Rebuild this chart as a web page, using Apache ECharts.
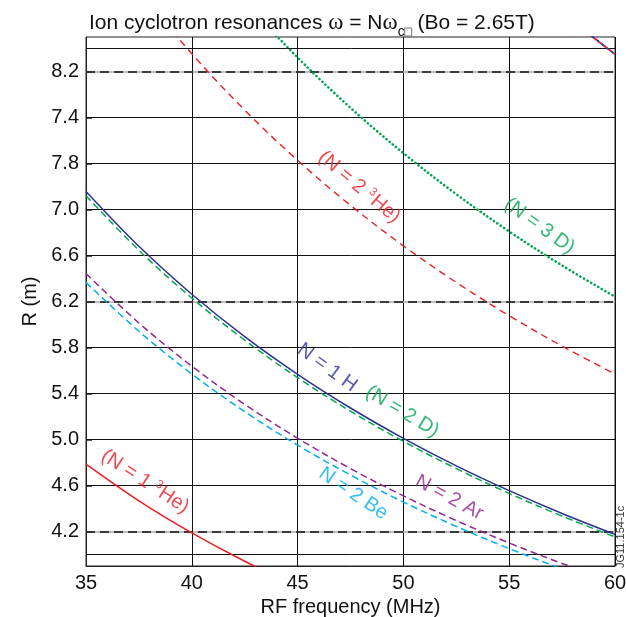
<!DOCTYPE html>
<html>
<head>
<meta charset="utf-8">
<title>Ion cyclotron resonances</title>
<script src="https://cdn.jsdelivr.net/npm/echarts@6/dist/echarts.min.js"></script>
<style>
  html, body { margin: 0; padding: 0; background: #fff; }
  #chart { width: 626px; height: 617px; }
</style>
</head>
<body>
<div id="chart"></div>
<script>
// RF frequency samples (MHz)
const freqs = [35, 37.5, 40, 42.5, 45, 47.5, 50, 52.5, 55, 57.5, 60];

// Resonance radius R (m) at each frequency
const rH1   = [7.157, 6.680, 6.263, 5.894, 5.567, 5.274, 5.010, 4.771, 4.555, 4.357, 4.175];
const rD2   = [7.120, 6.645, 6.230, 5.864, 5.538, 5.246, 4.984, 4.747, 4.531, 4.334, 4.153];
const rBe2  = [6.366, 5.941, 5.570, 5.242, 4.951, 4.691, 4.456, 4.244, 4.051, 3.875, 3.713];
const rAr2  = [6.443, 6.013, 5.638, 5.306, 5.011, 4.747, 4.510, 4.295, 4.100, 3.922, 3.758];
const rHe3_2 = [9.549, 8.912, 8.355, 7.864, 7.427, 7.036, 6.684, 6.366, 6.076, 5.812, 5.570];
const rD3   = [10.70, 9.987, 9.363, 8.812, 8.322, 7.884, 7.490, 7.133, 6.809, 6.513, 6.242];
const rHe3_1 = [4.786, 4.467, 4.188, 3.941, 3.722];
const rH2   = [9.109, 8.713, 8.350];
const freqsH2 = [55, 57.5, 60];

// Horizontal reference lines (m)
const solidLevels  = [4.0, 4.6, 5.0, 5.4, 5.8, 6.6, 7.0, 7.4, 7.8, 8.4];
const dashedLevels = [4.2, 6.2, 8.2];

// R axis tick positions and their printed labels
const rTicks  = [4.2, 4.6, 5.0, 5.4, 5.8, 6.2, 6.6, 7.0, 7.4, 7.8, 8.2];
const rLabels = ['4.2', '4.6', '5.0', '5.4', '5.8', '6.2', '6.6', '7.0', '7.8', '7.4', '8.2'];

// Curve captions: rich text, anchor (MHz, m), slope angle
const captions = [
  { text: '(N = 2 {sup|3}He)', f: 47.91, r: 7.195, angle: -40, color: '#ed1c24' },
  { text: '(N = 3 D)',         f: 56.43, r: 6.856, angle: -36, color: '#00a651' },
  { text: 'N = 1 H',           f: 46.40, r: 5.624, angle: -36, color: '#2e3192' },
  { text: '(N = 2 D)',         f: 49.95, r: 5.242, angle: -31, color: '#00a651' },
  { text: 'N = 2 Be',          f: 47.63, r: 4.530, angle: -34, color: '#00aeef' },
  { text: 'N = 2 Ar',          f: 52.17, r: 4.495, angle: -28, color: '#92278f' },
  { text: '(N = 1 {sup|3}He)', f: 37.79, r: 4.634, angle: -33, color: '#ed1c24' }
];

const FONT = '"Liberation Sans", Arial, Helvetica, sans-serif';

function pairs(xs, ys) { return ys.map((y, i) => [xs[i], y]); }

function curve(name, xs, ys, color, type, width, extra) {
  return Object.assign({
    name: name,
    type: 'line',
    data: pairs(xs, ys),
    smooth: 0.35,
    symbol: 'none',
    clip: true,
    silent: true,
    lineStyle: { color: color, width: width, type: type },
    z: 5
  }, extra || {});
}

const chart = echarts.init(document.getElementById('chart'), null, { renderer: 'canvas' });

const option = {
  animation: false,
  backgroundColor: '#fff',
  title: {
    left: 84,
    top: 5,
    text: '{a|Ion cyclotron resonances }{w|ω}{a| = N}{w|ω}{s|c}{b|}{a| (Bo = 2.65T)}',
    textStyle: {
      fontWeight: 'normal',
      rich: {
        a: { fontFamily: FONT, fontSize: 21, fontWeight: 'normal', color: '#111', lineHeight: 26, verticalAlign: 'middle' },
        w: { fontFamily: '"Liberation Serif", "DejaVu Serif", serif', fontSize: 23, fontWeight: 'normal', color: '#111', lineHeight: 26, verticalAlign: 'middle' },
        s: { fontFamily: FONT, fontSize: 14, fontWeight: 'normal', color: '#111', lineHeight: 14, verticalAlign: 'bottom', padding: [0, 0, -3, 0] },
        b: { width: 7, height: 11, borderColor: '#777', borderWidth: 1, verticalAlign: 'bottom', lineHeight: 11, padding: [0, 0, -3, 0] }
      }
    }
  },
  grid: {
    left: 86, right: 11, top: 37, bottom: 51,
    outerBoundsMode: 'none',
    containLabel: false,
    show: true, borderColor: '#222', borderWidth: 1
  },
  xAxis: {
    type: 'value',
    min: 35,
    max: 60,
    interval: 5,
    name: 'RF frequency (MHz)',
    nameLocation: 'middle',
    nameGap: 28,
    nameTextStyle: { fontFamily: FONT, fontSize: 20, color: '#111', verticalAlign: 'top' },
    axisLine: { show: true, lineStyle: { color: '#222', width: 1 } },
    axisTick: { show: false },
    axisLabel: { fontFamily: FONT, fontSize: 20, color: '#111', margin: 7 },
    splitLine: { show: true, lineStyle: { color: '#111', width: 1 } }
  },
  yAxis: {
    type: 'value',
    min: 3.9,
    max: 8.5,
    name: 'R (m)',
    nameLocation: 'middle',
    nameGap: 46,
    nameRotate: 90,
    nameTextStyle: { fontFamily: FONT, fontSize: 20, color: '#111' },
    axisLine: { show: true, lineStyle: { color: '#222', width: 1 } },
    axisTick: { show: true, inside: true, length: 6, customValues: rTicks, lineStyle: { color: '#222', width: 1.5 } },
    axisLabel: {
      fontFamily: FONT, fontSize: 20, color: '#111', margin: 7,
      customValues: rTicks,
      formatter: function (v) {
        const i = rTicks.findIndex(t => Math.abs(t - v) < 1e-6);
        return i >= 0 ? rLabels[i] : '';
      }
    },
    splitLine: { show: false }
  },
  graphic: [{
    type: 'text',
    x: 615,
    y: 568,
    rotation: Math.PI / 2,
    style: { text: 'JG11.154-1c', fontFamily: FONT, fontSize: 11, fill: '#333', textAlign: 'left', textVerticalAlign: 'top' },
    silent: true
  }],
  series: [
    {
      name: 'grid levels',
      type: 'line',
      data: [],
      silent: true,
      markLine: {
        silent: true,
        symbol: 'none',
        label: { show: false },
        animation: false,
        data: solidLevels.map(v => ({ yAxis: v, lineStyle: { color: '#111', width: 1, type: 'solid' } }))
          .concat(dashedLevels.map(v => ({ yAxis: v, lineStyle: { color: '#aaa', width: 1.5, type: 'solid' } })))
      },
      z: 1
    },
    {
      name: 'dashed levels',
      type: 'line',
      data: [],
      silent: true,
      markLine: {
        silent: true,
        symbol: 'none',
        label: { show: false },
        animation: false,
        data: dashedLevels.map(v => ({ yAxis: v, lineStyle: { color: '#111', width: 1.5, type: [9, 5] } }))
      },
      z: 2
    },
    curve('N = 2 D', freqs, rD2, '#00a651', [7, 4], 1.5),
    curve('N = 1 H', freqs, rH1, '#2e3192', 'solid', 1.5),
    curve('N = 2 Be', freqs, rBe2, '#00aeef', [7, 4], 1.5),
    curve('N = 2 Ar', freqs, rAr2, '#92278f', [7, 4], 1.5),
    curve('N = 2 3He', freqs, rHe3_2, '#ed1c24', [7, 5], 1.4),
    curve('N = 3 D', freqs, rD3, '#00a651', [0.1, 4], 2.6, { lineStyle: { color: '#00a651', width: 2.6, type: [0.1, 4], cap: 'round' } }),
    curve('N = 1 3He', freqs.slice(0, rHe3_1.length), rHe3_1, '#ed1c24', 'solid', 1.5),
    curve('N = 2 H', freqsH2, rH2, '#2e3192', [3, 3], 2),
    curve('N = 3 3He', freqsH2, rH2, '#ed1c24', [3, 3], 2, { lineStyle: { color: '#ed1c24', width: 2, type: [3, 3], dashOffset: 3 } }),
    {
      name: 'captions',
      type: 'scatter',
      symbolSize: 0,
      silent: true,
      z: 10,
      data: captions.map(c => ({
        value: [c.f, c.r],
        label: {
          show: true,
          position: 'inside',
          formatter: c.text,
          rotate: c.angle,
          color: c.color,
          fontFamily: FONT,
          fontSize: 20,
          lineHeight: 22,
          align: 'center',
          verticalAlign: 'middle',
          rich: {
            sup: { fontFamily: FONT, fontSize: 12, color: c.color, verticalAlign: 'top', lineHeight: 22, padding: [0, 1, 0, 0] }
          }
        }
      }))
    }
  ]
};

chart.setOption(option);
</script>
</body>
</html>
